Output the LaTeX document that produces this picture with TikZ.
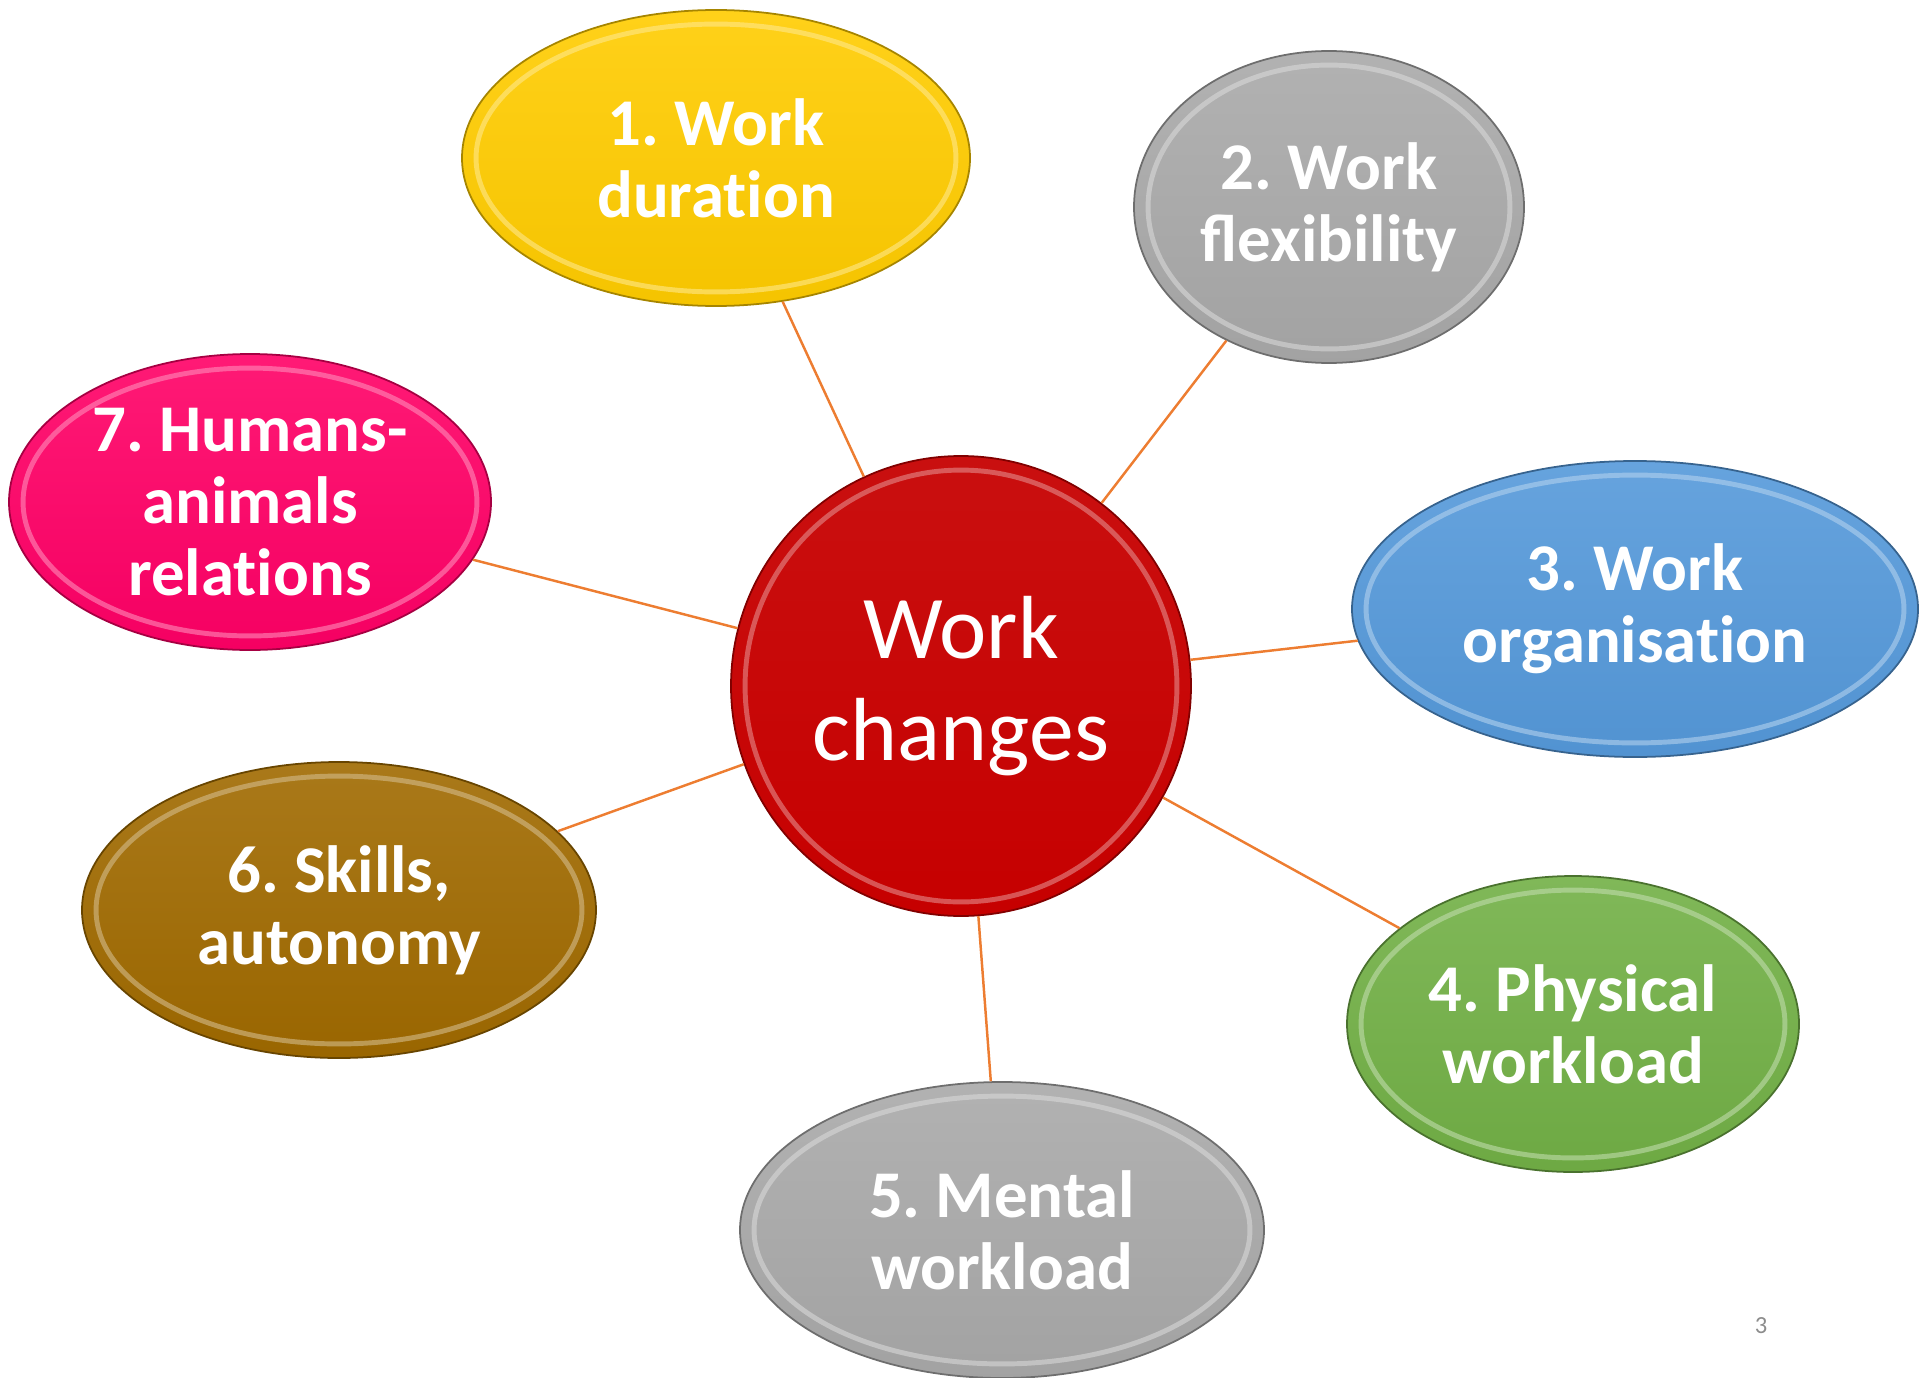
\documentclass[tikz,border=0pt]{standalone}
\usepackage{fontspec}
\setmainfont{Carlito}[Ligatures=NoCommon]
\newfontfamily\ligfont{Carlito}
\usepackage{xcolor}
\usepackage{tikz}
\usetikzlibrary{shapes.geometric, calc}
\frenchspacing

\definecolor{hubred}{HTML}{C60000}
\definecolor{durgold}{HTML}{FFCC00}
\definecolor{flexgray}{HTML}{A9A9A9}
\definecolor{orgblue}{HTML}{5599DA}
\definecolor{physgreen}{HTML}{72B046}
\definecolor{skillbrown}{HTML}{A06A00}
\definecolor{humpink}{HTML}{FF0066}
\definecolor{linkorange}{HTML}{ED7D31}
\definecolor{pagegray}{HTML}{8C8C8C}

\begin{document}
\begin{tikzpicture}[
    bubble/.style={ellipse, inner sep=0pt, align=center, text=white,
        font=\fontsize{19}{20.5}\selectfont\bfseries,
        top color=#1!90!white, bottom color=#1!96!black, draw=#1!65!black, line width=0.5pt,
        path picture={\draw[#1!45!white, line width=1.4pt, opacity=0.6]
            let \p1=(path picture bounding box.north east), \p2=(path picture bounding box.center)
            in (\p2) ellipse ({\x1-\x2-4pt} and {\y1-\y2-4pt});}},
    link/.style={draw=linkorange, line width=0.7pt}]
    \useasboundingbox (0,0) rectangle (19.2,-13.77);

    \node[bubble=hubred, circle, minimum size=4.6cm, top color=hubred!94!white, bottom color=hubred, font=\fontsize{25.5}{29}\selectfont] (hub) at (9.61,-6.86) {Work\\changes};

    \node[bubble=durgold, minimum width=5.08cm, minimum height=2.96cm] (dur) at (7.16,-1.58) {1. Work\\duration};
    \node[bubble=flexgray, minimum width=3.9cm, minimum height=3.12cm, font=\fontsize{19}{20.5}\ligfont\bfseries] (flex) at (13.29,-2.07) {2. Work\\flexibility};
    \node[bubble=orgblue, minimum width=5.66cm, minimum height=2.96cm] (org) at (16.35,-6.09) {3. Work\\organisation};
    \node[bubble=physgreen, minimum width=4.52cm, minimum height=2.96cm] (phys) at (15.73,-10.24) {4. Physical\\workload};
    \node[bubble=flexgray, minimum width=5.24cm, minimum height=2.96cm] (ment) at (10.02,-12.30) {5. Mental\\workload};
    \node[bubble=skillbrown, minimum width=5.14cm, minimum height=2.96cm] (skill) at (3.39,-9.10) {6. Skills,\\autonomy};
    \node[bubble=humpink, minimum width=4.82cm, minimum height=2.96cm] (hum) at (2.50,-5.02) {7. Humans-\\animals\\relations};

    \draw[link] (hub) -- (dur);
    \draw[link] (hub) -- (flex);
    \draw[link] (hub) -- (org);
    \draw[link] (hub) -- (phys);
    \draw[link] (hub) -- (ment);
    \draw[link] (hub) -- (skill);
    \draw[link] (hub) -- (hum);

    \node[text=pagegray, font=\fontsize{7}{8}\selectfont] (pagenum) at (17.61,-13.26) {3};
\end{tikzpicture}
\end{document}
